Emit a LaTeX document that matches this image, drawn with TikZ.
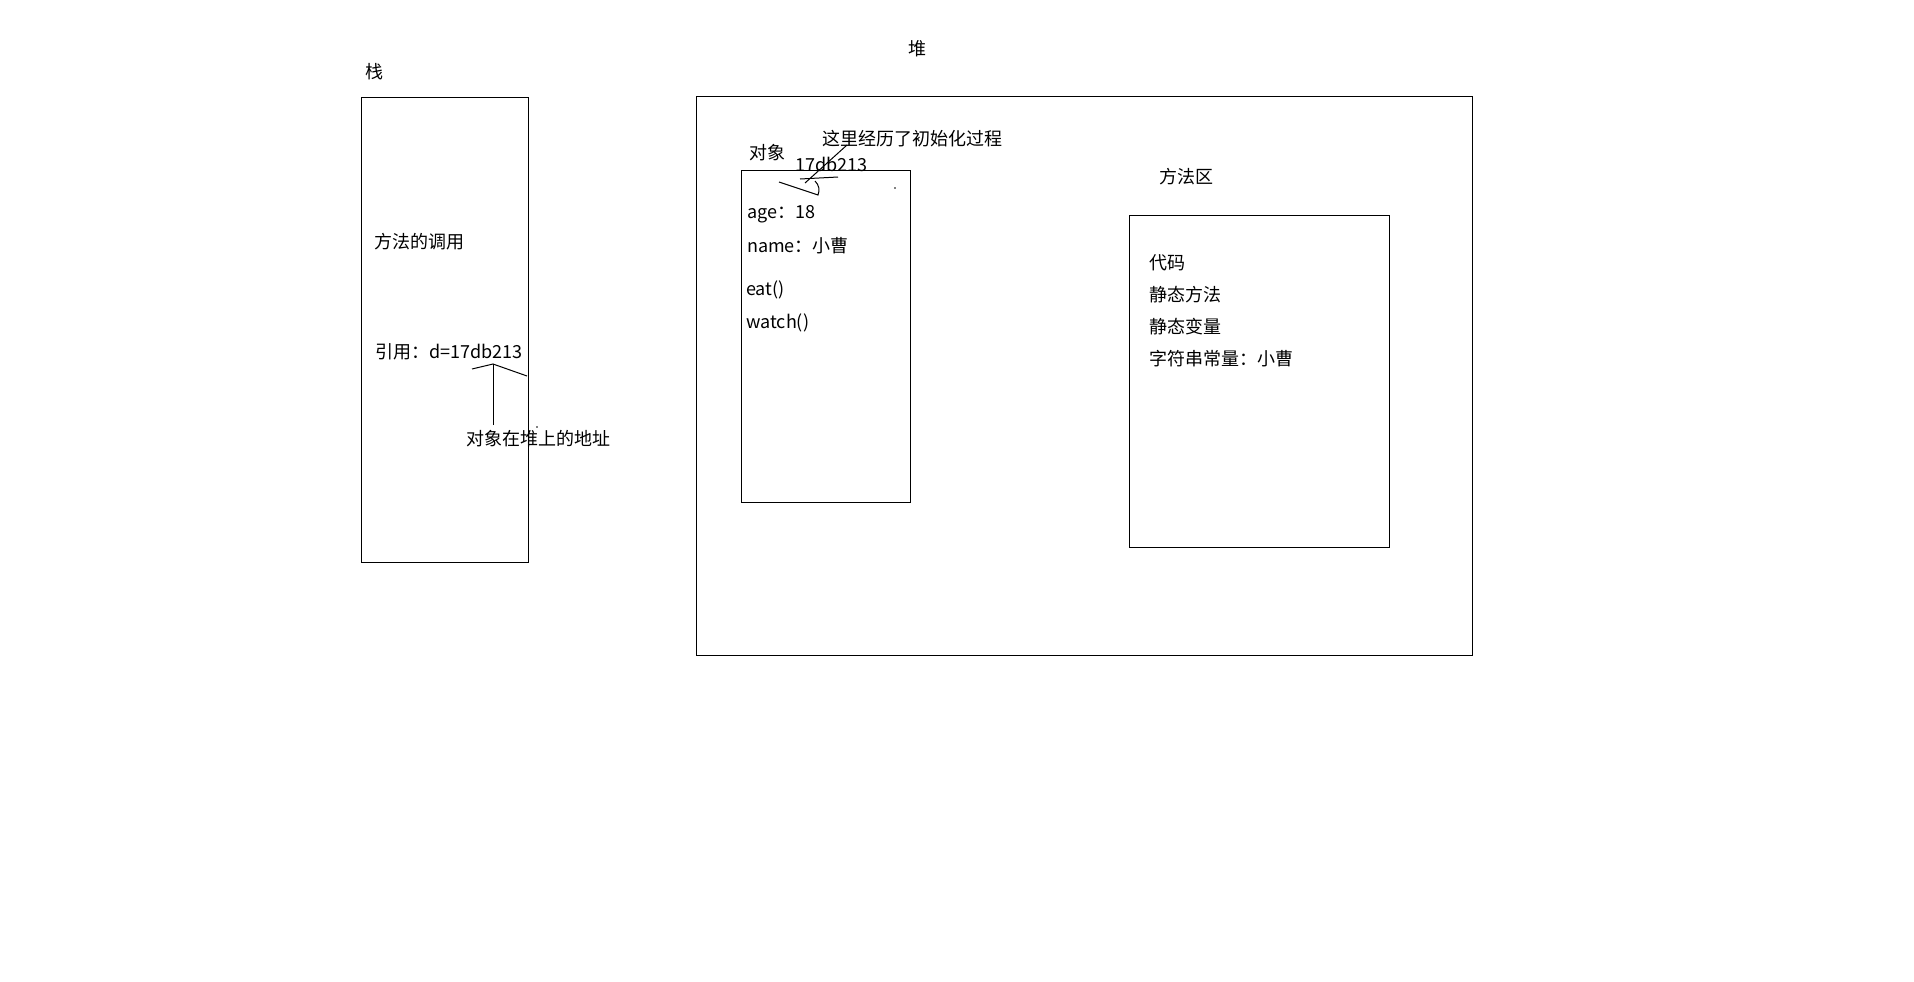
\documentclass[tikz,border=0pt]{standalone}
\usepackage{fontspec}
\setmainfont{Noto Sans CJK SC}
\begin{document}
\begin{tikzpicture}[x=1pt,y=-1pt,
  txt/.style={anchor=west,inner sep=0pt,font=\fontsize{18}{20}\selectfont},
  box/.style={draw,line width=1pt}]
\useasboundingbox (0,0) rectangle (1914,982);
\fill[white] (0,0) rectangle (1914,982);
\node[box,minimum width=167pt,minimum height=465pt,anchor=north west] (stack) at (361,97) {};
\node[box,minimum width=776pt,minimum height=559pt,anchor=north west] (heap) at (696,96) {};
\node[box,minimum width=169pt,minimum height=332pt,anchor=north west] (obj) at (741,170) {};
\node[box,minimum width=260pt,minimum height=332pt,anchor=north west] (meth) at (1129,215) {};
\node[txt] (t1) at (365,72) {栈};
\node[txt] (t2) at (908,49) {堆};
\node[txt] (t3) at (749,153) {对象};
\node[txt] (t4) at (822,139) {这里经历了初始化过程};
\node[txt] (t5) at (795,164) {17db213};
\node[txt] (t6) at (1159,177) {方法区};
\node[txt] (a1) at (747,214) {age：18};
\node[txt] (a2) at (747,246) {name：小曹};
\node[txt] (a3) at (746,290) {eat()};
\node[txt] (a4) at (746,323) {watch()};
\node[txt] (s1) at (374,242) {方法的调用};
\node[txt] (s2) at (375,352) {引用：d=17db213};
\node[txt] (s3) at (466,439) {对象在堆上的地址};
\node[txt] (m1) at (1149,263) {代码};
\node[txt] (m2) at (1149,295) {静态方法};
\node[txt] (m3) at (1149,327) {静态变量};
\node[txt] (m4) at (1149,359) {字符串常量：小曹};
\coordinate (ab) at (493,425);
\coordinate (ap) at (493,364);
\draw[line width=1pt] (ab) -- (ap);
\draw[line width=1pt] (472,369) -- (ap) -- (527,376);
\draw[line width=1pt] (805,183) -- (847,145);
\draw[line width=1pt] (800,179) -- (838,177);
\draw[line width=1pt] (779,182) -- (818,195) .. controls (820,190) and (819,185) .. (815,181);
\fill (895,188) circle (0.8);
\fill (537,427) circle (0.8);
\end{tikzpicture}
\end{document}
